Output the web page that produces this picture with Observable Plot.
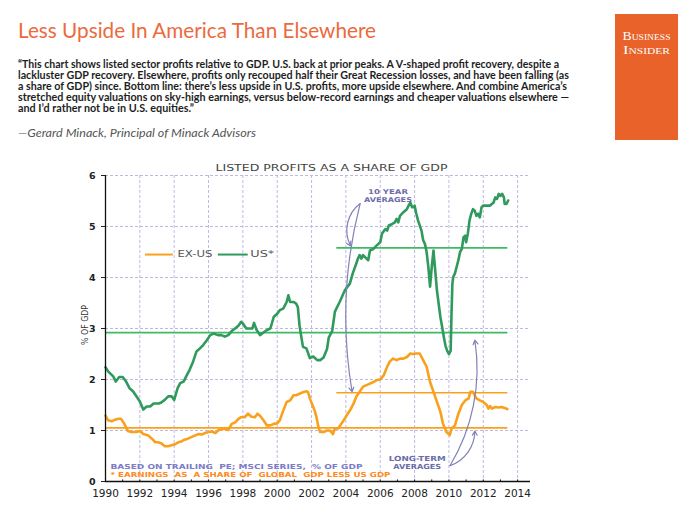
<!DOCTYPE html>
<html><head><meta charset="utf-8">
<script src="https://cdn.jsdelivr.net/npm/d3@7"></script>
<script src="https://cdn.jsdelivr.net/npm/@observablehq/plot@0.6"></script>
<style>
body{margin:0;background:#fff;}
#page{position:relative;width:700px;height:525px;overflow:hidden;background:#fff;}
#header{position:absolute;left:0;top:0;}
#chart{position:absolute;left:0;top:145px;}
</style></head><body>
<div id="page"><svg id="header" width="700" height="145"></svg><div id="chart"></div></div>
<script>
// ---------------- DATA ----------------
const usYears = [1990.0,1990.15,1990.45,1990.6,1990.8,1991.0,1991.2,1991.4,1991.6,1991.8,1992.0,1992.2,1992.4,1992.6,1992.8,1993.1,1993.25,1993.45,1993.65,1993.85,1994.0,1994.2,1994.35,1994.55,1994.7,1994.9,1995.1,1995.3,1995.5,1995.7,1995.9,1996.1,1996.3,1996.55,1996.75,1996.95,1997.15,1997.35,1997.55,1997.75,1997.9,1998.0,1998.2,1998.4,1998.55,1998.65,1998.8,1999.0,1999.2,1999.4,1999.6,1999.8,2000.0,2000.15,2000.35,2000.55,2000.65,2000.75,2000.95,2001.1,2001.2,2001.3,2001.4,2001.5,2001.7,2001.9,2002.1,2002.33,2002.5,2002.7,2002.9,2003.0,2003.2,2003.36,2003.65,2003.94,2004.23,2004.4,2004.6,2004.7,2004.8,2004.9,2005.0,2005.2,2005.3,2005.4,2005.6,2005.8,2006.0,2006.1,2006.3,2006.4,2006.5,2006.7,2006.85,2006.95,2007.05,2007.15,2007.35,2007.55,2007.65,2007.75,2007.85,2007.95,2008.0,2008.1,2008.2,2008.4,2008.5,2008.6,2008.7,2008.8,2008.9,2009.0,2009.1,2009.2,2009.3,2009.4,2009.5,2009.6,2009.7,2009.8,2009.9,2010.0,2010.1,2010.15,2010.2,2010.25,2010.35,2010.45,2010.55,2010.65,2010.75,2010.85,2010.95,2011.0,2011.1,2011.2,2011.3,2011.4,2011.5,2011.6,2011.7,2011.8,2011.9,2012.0,2012.2,2012.4,2012.5,2012.6,2012.7,2012.8,2012.9,2013.0,2013.1,2013.2,2013.25,2013.35,2013.45];
const usValues = [2.24,2.16,2.06,1.96,2.05,2.05,1.96,1.83,1.77,1.67,1.57,1.41,1.47,1.47,1.53,1.53,1.55,1.6,1.67,1.67,1.6,1.83,1.93,1.96,2.06,2.19,2.35,2.55,2.61,2.68,2.77,2.87,2.9,2.87,2.87,2.84,2.87,2.95,3.0,3.06,3.13,3.1,3.0,3.0,3.0,3.11,2.97,2.87,2.92,2.97,3.0,3.23,3.29,3.36,3.39,3.52,3.65,3.52,3.52,3.49,3.42,3.06,2.84,2.64,2.61,2.42,2.45,2.38,2.38,2.43,2.6,2.82,2.95,3.33,3.53,3.75,3.88,4.08,4.27,4.37,4.44,4.37,4.44,4.37,4.34,4.53,4.56,4.63,4.69,4.86,4.95,4.92,5.02,5.05,5.08,5.15,5.08,5.21,5.28,5.34,5.41,5.47,5.38,5.38,5.41,5.25,5.12,4.92,4.73,4.66,4.5,4.21,3.82,4.21,4.53,4.14,3.75,3.49,3.23,3.04,2.84,2.66,2.56,2.5,2.56,3.3,3.87,4.01,4.08,4.21,4.34,4.5,4.56,4.79,4.82,4.69,4.86,5.12,5.25,5.34,5.31,5.21,5.25,5.18,5.38,5.41,5.41,5.41,5.44,5.47,5.57,5.54,5.64,5.6,5.64,5.57,5.44,5.44,5.51];

const exYears = [1990.0,1990.15,1990.35,1990.55,1990.75,1990.9,1991.1,1991.3,1991.5,1991.8,1992.0,1992.2,1992.5,1992.7,1992.9,1993.05,1993.25,1993.45,1993.65,1993.85,1994.05,1994.25,1994.45,1994.6,1994.8,1995.0,1995.2,1995.4,1995.6,1995.8,1996.0,1996.2,1996.4,1996.55,1996.75,1996.95,1997.15,1997.35,1997.55,1997.75,1997.9,1998.1,1998.3,1998.5,1998.7,1998.85,1999.0,1999.2,1999.4,1999.6,1999.8,2000.0,2000.15,2000.35,2000.55,2000.75,2000.95,2001.1,2001.3,2001.5,2001.7,2001.8,2001.9,2002.1,2002.2,2002.3,2002.4,2002.5,2002.7,2002.9,2003.05,2003.15,2003.25,2003.35,2003.55,2003.75,2003.95,2004.05,2004.25,2004.45,2004.6,2004.8,2005.0,2005.2,2005.4,2005.6,2005.8,2006.0,2006.2,2006.4,2006.55,2006.75,2006.95,2007.15,2007.35,2007.55,2007.75,2007.9,2008.1,2008.3,2008.5,2008.7,2008.9,2009.1,2009.3,2009.5,2009.65,2009.85,2009.95,2010.05,2010.15,2010.35,2010.55,2010.75,2010.95,2011.15,2011.25,2011.4,2011.5,2011.6,2011.8,2012.0,2012.2,2012.3,2012.4,2012.5,2012.7,2012.9,2013.05,2013.25,2013.4];
const exValues = [1.29,1.2,1.18,1.21,1.23,1.23,1.13,0.99,0.97,0.97,0.99,0.93,0.9,0.84,0.77,0.77,0.75,0.69,0.69,0.71,0.73,0.77,0.79,0.82,0.84,0.87,0.9,0.93,0.92,0.95,0.97,0.98,0.95,1.0,1.03,1.03,1.01,1.13,1.16,1.23,1.26,1.26,1.33,1.27,1.26,1.33,1.29,1.2,1.1,1.1,1.13,1.14,1.2,1.39,1.56,1.59,1.69,1.69,1.72,1.75,1.77,1.75,1.63,1.46,1.37,1.24,1.07,0.97,0.97,1.0,1.0,0.97,0.93,1.04,1.04,1.14,1.24,1.3,1.4,1.53,1.66,1.76,1.86,1.89,1.92,1.95,1.99,2.0,2.08,2.25,2.35,2.41,2.38,2.41,2.41,2.44,2.51,2.5,2.51,2.51,2.38,2.25,1.95,1.76,1.56,1.37,1.14,0.97,0.94,0.91,1.04,1.1,1.33,1.5,1.59,1.63,1.76,1.76,1.69,1.63,1.59,1.56,1.5,1.43,1.48,1.43,1.46,1.45,1.46,1.44,1.42];

// reference averages
const avgSeries = ["US*", "EX-US", "US*", "EX-US"];
const avgValues = [2.92, 1.05, 4.58, 1.74];
const avgStart  = [1990, 1990, 2003.47, 2003.47];
const avgEnd    = [2013.43, 2013.43, 2013.43, 2013.43];

// tick labels
const xLabelYears = [1990,1992,1994,1996,1998,2000,2002,2004,2006,2008,2010,2012,2014];
const xMinorYears = [1990,1991,1992,1993,1994,1995,1996,1997,1998,1999,2000,2001,2002,2003,2004,2005,2006,2007,2008,2009,2010,2011,2012,2013,2014];
const yTicks = [0,1,2,3,4,5,6];

// text
const titleText = "Less Upside In America Than Elsewhere";
const quoteLines = [
  "\u201CThis chart shows listed sector profits relative to GDP. U.S. back at prior peaks. A V-shaped profit recovery, despite a",
  "lackluster GDP recovery. Elsewhere, profits only recouped half their Great Recession losses, and have been falling (as",
  "a share of GDP) since. Bottom line: there\u2019s less upside in U.S. profits, more upside elsewhere. And combine America\u2019s",
  "stretched equity valuations on sky-high earnings, versus below-record earnings and cheaper valuations elsewhere \u2014",
  "and I\u2019d rather not be in U.S. equities.\u201D"
];
const attribution = "\u2014Gerard Minack, Principal of Minack Advisors";
const chartTitle = "LISTED PROFITS AS A SHARE OF GDP";
const yLabel = "% OF GDP";
const noteLine1 = "BASED ON TRAILING  PE; MSCI SERIES,  % OF GDP";
const noteLine2 = "* EARNINGS  AS  A SHARE OF  GLOBAL  GDP LESS US GDP";

// ---------------- STYLE ----------------
const usColor = "#2f9a5c";
const usAvgColor = "#3dbb63";
const exColor = "#f9a11e";
const annColor = "#6c6ca8";
const arrowColor = "#8282b8";
const gridColor = "#bdb9e2";

// ---------------- HEADER ----------------
const header = d3.select("#header");
function fitText(sel, w){ sel.attr("textLength", w).attr("lengthAdjust", "spacingAndGlyphs"); return sel; }
fitText(header.append("text").attr("x", 18).attr("y", 37.5)
  .attr("font-family", "Lato, 'Open Sans', sans-serif").attr("font-size", 20.5).attr("fill", "#ec6a3d")
  .text(titleText), 358);
const quoteWidths = [541, 551, 549, 551, 176];
const quoteBase = [68.3, 79.3, 90.3, 101.3, 112.3];
quoteLines.forEach((line, i) => {
  fitText(header.append("text").attr("x", 18).attr("y", quoteBase[i])
    .attr("font-family", "Lato, 'Open Sans', sans-serif").attr("font-weight", 700)
    .attr("font-size", 10.5).attr("fill", "#1e1e1e").text(line), quoteWidths[i]);
});
fitText(header.append("text").attr("x", 18).attr("y", 136.5)
  .attr("font-family", "Lato, 'Open Sans', sans-serif").attr("font-style", "italic")
  .attr("font-size", 12).attr("fill", "#555").text(attribution), 238);
header.append("rect").attr("x", 615).attr("y", 14).attr("width", 63).attr("height", 126).attr("fill", "#e8622a");
fitText(header.append("text").attr("x", 646.5).attr("y", 40).attr("text-anchor", "middle")
  .attr("font-family", "'Liberation Serif', 'DejaVu Serif', serif").attr("font-size", 11.5)
  .attr("font-variant", "small-caps").attr("fill", "#fff").text("Business"), 48);
fitText(header.append("text").attr("x", 646.5).attr("y", 53.5).attr("text-anchor", "middle")
  .attr("font-family", "'Liberation Serif', 'DejaVu Serif', serif").attr("font-size", 11.5)
  .attr("font-variant", "small-caps").attr("fill", "#fff").text("Insider"), 47);

// ---------------- CHART ----------------
const usData = usYears.map((y, i) => ({year: y, value: usValues[i]}));
const exData = exYears.map((y, i) => ({year: y, value: exValues[i]}));
const averages = avgValues.map((v, i) => ({series: avgSeries[i], value: v, start: avgStart[i], end: avgEnd[i]}));

const F = "'DejaVu Sans', Verdana, sans-serif";
const chart = Plot.plot({
  width: 700, height: 380,
  marginLeft: 105, marginRight: 170, marginTop: 30, marginBottom: 44,
  x: {domain: [1990, 2014.75]},
  y: {domain: [0, 6]},
  style: {fontFamily: F, fontSize: "10px", color: "#222", background: "transparent", overflow: "visible"},
  marks: [
    Plot.gridX(xLabelYears.slice(1), {stroke: gridColor, strokeOpacity: 1, strokeDasharray: "3,2", strokeWidth: 1}),
    Plot.gridY(yTicks.slice(1), {stroke: gridColor, strokeOpacity: 1, strokeDasharray: "3,2", strokeWidth: 1}),
    Plot.ruleY(averages, {y: "value", x1: "start", x2: "end", stroke: d => d.series === "US*" ? usAvgColor : exColor, strokeWidth: 1.7}),
    Plot.line(exData, {x: "year", y: "value", stroke: exColor, strokeWidth: 2.6, strokeLinejoin: "round"}),
    Plot.line(usData, {x: "year", y: "value", stroke: usColor, strokeWidth: 2.6, strokeLinejoin: "round"}),
    Plot.ruleY([0], {stroke: "#111", strokeWidth: 1.3}),
    Plot.ruleX([1990], {y1: 0, y2: 6, stroke: "#111", strokeWidth: 1.3}),
    Plot.ruleX(xMinorYears, {y1: 0, y2: 0.07, insetBottom: -2, stroke: "#111", strokeWidth: 1}),
    Plot.axisY({ticks: yTicks, tickSize: 4, tickPadding: 6, tickFormat: d => String(d), fontWeight: "bold", fontSize: 9.5, label: null}),
    Plot.axisX({ticks: xLabelYears, tickSize: 0, tickPadding: 8, tickFormat: d => String(d), fontSize: 10.5, label: null}),
    // chart title & y label
    Plot.text([chartTitle], {x: 2003.16, y: 6, dy: -7, text: d => d, fontSize: 8.5, fill: "#444", fontFamily: F}),
    Plot.text([yLabel], {x: 1990, y: 3.07, dx: -21, rotate: -90, text: d => d, fontSize: 9.5, fill: "#333"}),
    // legend
    Plot.ruleY([4.45], {x1: 1992.33, x2: 1993.95, stroke: exColor, strokeWidth: 2}),
    Plot.ruleY([4.45], {x1: 1996.57, x2: 1998.31, stroke: usColor, strokeWidth: 2}),
    Plot.text(["EX-US"], {x: 1994.19, y: 4.45, text: d => d, textAnchor: "start", fontSize: 8, fill: "#555"}),
    Plot.text(["US*"], {x: 1998.43, y: 4.45, text: d => d, textAnchor: "start", fontSize: 8, fill: "#555"}),
    // notes
    Plot.text([noteLine1], {x: 1990.29, y: 0.29, text: d => d, textAnchor: "start", fontSize: 6.8, fontWeight: "bold", fill: "#7c7cc6"}),
    Plot.text([noteLine2], {x: 1990.29, y: 0.14, text: d => d, textAnchor: "start", fontSize: 6.8, fontWeight: "bold", fill: "#ff8a20"}),
    // annotations
    Plot.text(["10 YEAR"], {x: 2006.45, y: 5.67, text: d => d, fontSize: 6.6, fontWeight: "bold", fill: annColor}),
    Plot.text(["AVERAGES"], {x: 2006.45, y: 5.53, text: d => d, fontSize: 6.6, fontWeight: "bold", fill: annColor}),
    Plot.text(["LONG-TERM"], {x: 2008.15, y: 0.44, text: d => d, fontSize: 7, fontWeight: "bold", fill: annColor}),
    Plot.text(["AVERAGES"], {x: 2008.15, y: 0.285, text: d => d, fontSize: 7, fontWeight: "bold", fill: annColor}),
    Plot.arrow([0], {x1: 2004.83, y1: 5.45, x2: 2004.27, y2: 4.62, bend: -40, stroke: arrowColor, strokeWidth: 1.2, headLength: 6}),
    Plot.arrow([0], {x1: 2004.83, y1: 5.45, x2: 2004.36, y2: 1.76, bend: -12, stroke: arrowColor, strokeWidth: 1.2, headLength: 6}),
    Plot.arrow([0], {x1: 2010.06, y1: 0.31, x2: 2011.51, y2: 0.99, bend: -35, stroke: arrowColor, strokeWidth: 1.2, headLength: 6}),
    Plot.arrow([0], {x1: 2010.06, y1: 0.31, x2: 2011.51, y2: 2.77, bend: -20, stroke: arrowColor, strokeWidth: 1.2, headLength: 6})
  ]
});
document.getElementById("chart").appendChild(chart);

const fits = new Map([
  [chartTitle, 232], [yLabel, 40], ["EX-US", 35], ["US*", 24],
  [noteLine1, 252], [noteLine2, 280], ["10 YEAR", 40], ["LONG-TERM", 57], ["AVERAGES", 48]
]);
d3.select(chart).selectAll("text").each(function() {
  const t = this.textContent;
  if (fits.has(t)) { this.setAttribute("textLength", fits.get(t)); this.setAttribute("lengthAdjust", "spacingAndGlyphs"); }
});
</script>
</body></html>
